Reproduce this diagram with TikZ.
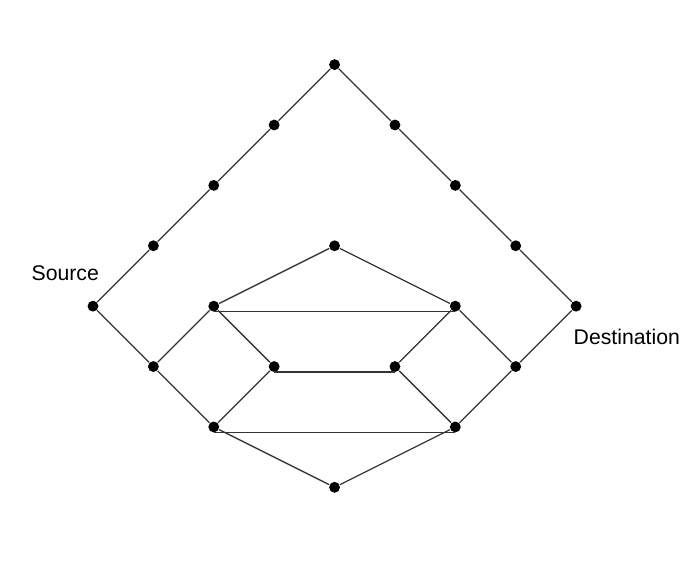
\documentclass[tikz,border=0pt]{standalone}
\usepackage{fontspec}
\setmainfont{Liberation Sans}
\usetikzlibrary{positioning}

\begin{document}
\begin{tikzpicture}[line width=0.6pt, x=1cm, y=1cm,
    dot/.style={circle, fill=black, inner sep=0pt, minimum size=0.18cm},
    link/.style={draw=black!80}]

\useasboundingbox (-1.54,-4.205) rectangle (9.77,5.07);

% Vnejsi cesta (horni)
    \node[dot] (s) at (0,0) {};
    \node[dot] (u1) at (1,1) {};
    \node[dot] (u2) at (2,2) {};
    \node[dot] (u3) at (3,3) {};
    \node[dot] (top) at (4,4) {};
    \node[dot] (u5) at (5,3) {};
    \node[dot] (u6) at (6,2) {};
    \node[dot] (u7) at (7,1) {};
    \node[dot] (d) at (8,0) {};

    % Vnitrni sit
    \node[dot] (m0) at (4,1) {};
    \node[dot] (a1) at (2,0) {};
    \node[dot] (a2) at (6,0) {};
    \node[dot] (b1) at (1,-1) {};
    \node[dot] (b2) at (3,-1) {};
    \node[dot] (b3) at (5,-1) {};
    \node[dot] (b4) at (7,-1) {};
    \node[dot] (c1) at (2,-2) {};
    \node[dot] (c2) at (6,-2) {};
    \node[dot] (bot) at (4,-3) {};

    % Popisky
    \node (src) at (-0.46,0.55) {Source};
    \node (dst) at (8.84,-0.51) {Destination};

    % Hrany
    \draw[link] (s) -- (u1) -- (u2) -- (u3) -- (top) -- (u5) -- (u6) -- (u7) -- (d);
    \draw[link] (s) -- (b1) -- (c1);
    \draw[link] (d) -- (b4) -- (c2);
    \draw[link] (a1) -- (m0) -- (a2);
    \draw[link] (a1) -- (b1);
    \draw[link] (a1) -- (b2);
    \draw[link] (a2) -- (b3);
    \draw[link] (a2) -- (b4);
    \draw[link] (b2) -- (c1);
    \draw[link] (b3) -- (c2);
    \draw[link] (c1) -- (bot) -- (c2);

    % vodorovne hrany lezi tesne pod teckami
    \draw[link] ([yshift=-0.09cm]a1.center) -- ([yshift=-0.09cm]a2.center);
    \draw[link] ([yshift=-0.09cm]b2.center) -- ([yshift=-0.09cm]b3.center);
    \draw[link] ([yshift=-0.09cm]c1.center) -- ([yshift=-0.09cm]c2.center);

\end{tikzpicture}
\end{document}
